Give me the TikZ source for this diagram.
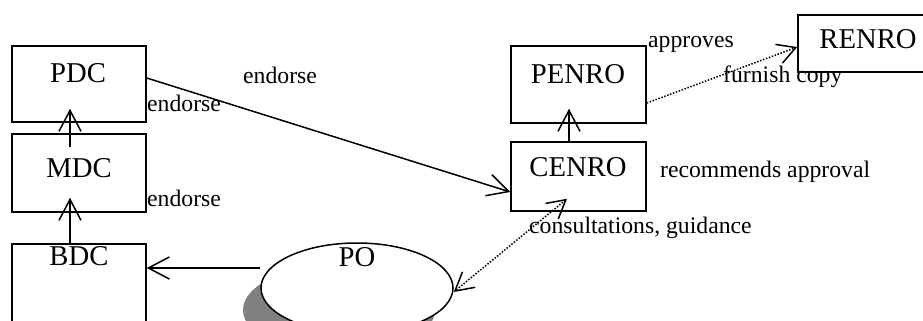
\documentclass[tikz,border=0pt]{standalone}
\usepackage{fontspec}
\setmainfont{Liberation Serif}
\usetikzlibrary{arrows.meta,shapes.geometric}

\tikzset{
  box/.style={draw=black, line width=1.5pt, fill=white, rectangle, inner sep=0pt},
  oval/.style={draw=black, line width=1.5pt, fill=white, ellipse, inner sep=0pt,
               minimum width=192pt, minimum height=90pt},
  boxtext/.style={inner sep=0pt, font=\fontsize{28.7}{31}\selectfont},
  note/.style={inner sep=0pt, anchor=base west, font=\fontsize{23.7}{26}\selectfont},
  bigtip/.tip={Straight Barb[length=21pt,width=22pt,line width=1.5pt]},
  smalltip/.tip={Straight Barb[length=18pt,width=20pt,line width=1.5pt]},
  flow/.style={line width=1.5pt, -{bigtip}},
  link/.style={line width=1.5pt, dash pattern=on 1.5pt off 1.6pt},
}

\begin{document}
\begin{tikzpicture}[x=1pt, y=-1pt]
  \useasboundingbox (0,0) rectangle (923,321);
  \fill[white] (0,0) rectangle (923,321);

  % council chain on the left
  \node[box, minimum width=134pt, minimum height=76pt] (pdc) at (79,84) {};
  \node[box, minimum width=134pt, minimum height=78pt] (mdc) at (79,173) {};
  \node[box, minimum width=134pt, minimum height=86pt] (bdc) at (79,287) {};
  \node[boxtext] (pdcT) at (78,73) {PDC};
  \node[boxtext] (mdcT) at (79,168) {MDC};

  % environment offices on the right
  \node[box, minimum width=135pt, minimum height=77pt] (penro) at (578.5,84.5) {};
  \node[box, minimum width=135pt, minimum height=69pt] (cenro) at (578.5,176.5) {};
  \node[box, minimum width=140pt, minimum height=57pt] (renro) at (868,43.5) {};
  \node[boxtext] (penroT) at (578,74) {PENRO};
  \node[boxtext] (cenroT) at (578,167) {CENRO};
  \node[boxtext] (renroT) at (868,39) {RENRO};

  % PO with its drop shadow
  \fill[black!50] (339,310) ellipse [x radius=96pt, y radius=45pt];
  \node[oval] (po) at (357,288) {};
  \node[boxtext] (poT) at (357,257) {PO};

  % connectors
  \draw[flow] ([xshift=-9pt]bdc.north) -- ([xshift=-9pt,yshift=15pt]mdc.south);
  \node[boxtext] (bdcT) at (79,256) {BDC};
  \draw[flow] ([xshift=-9pt,yshift=-14pt]mdc.north) -- ([xshift=-9pt,yshift=14pt]pdc.south);
  \draw[flow] ([yshift=6pt]pdc.east) -- ([yshift=-15.5pt]cenro.west);
  \draw[flow] ([xshift=-9.5pt]cenro.north) -- ([xshift=-9.5pt,yshift=15pt]penro.south);
  \draw[flow] ([yshift=20pt]po.west) -- ([yshift=19pt]bdc.east);
  \draw[link, -{smalltip}] ([yshift=-18.5pt]penro.east) -- ([yshift=-3.5pt]renro.west);
  \draw[link, {smalltip}-{smalltip}] ([xshift=-11.5pt,yshift=13pt]cenro.south) -- ([yshift=-4pt]po.east);

  % annotations
  \node[note] (n1) at (243,83) {endorse};
  \node[note] (n2) at (147,111) {endorse};
  \node[note] (n3) at (147,206) {endorse};
  \node[note] (n4) at (648,48) {approves};
  \node[note] (n5) at (723,82) {furnish copy};
  \node[note] (n6) at (660,177) {recommends approval};
  \node[note] (n7) at (529,233) {consultations, guidance};
\end{tikzpicture}
\end{document}
